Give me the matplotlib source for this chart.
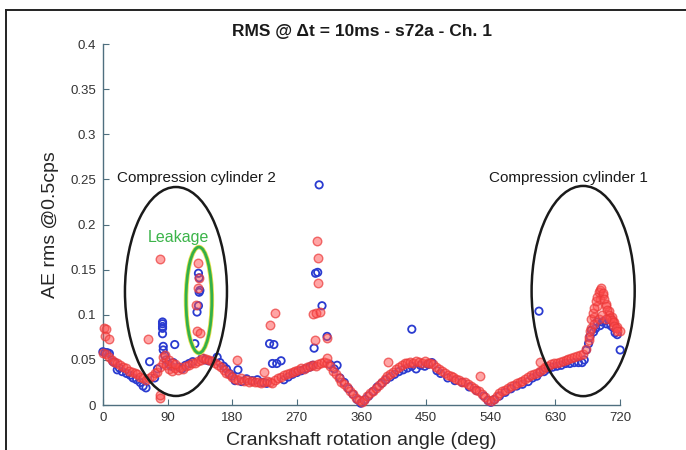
import matplotlib
matplotlib.use("Agg")
import matplotlib.pyplot as plt
from matplotlib.patches import Ellipse
from matplotlib.lines import Line2D
import numpy as np

plt.rcParams['font.family'] = ['Liberation Sans', 'DejaVu Sans']

# ---------------- data ----------------
red_main_x = list(range(0, 724, 4))
red_main_y = [
    0.058, 0.056, 0.053, 0.050, 0.048, 0.046, 0.044, 0.042, 0.041, 0.038,
    0.037, 0.035, 0.034, 0.031, 0.030, 0.028, 0.030, 0.032, 0.035, 0.037,
    0.042, 0.046, 0.044, 0.040, 0.038, 0.041, 0.039, 0.042, 0.040, 0.043,
    0.044, 0.046, 0.047, 0.049, 0.050, 0.052, 0.051, 0.050, 0.049, 0.046,
    0.044, 0.042, 0.039, 0.036, 0.034, 0.031, 0.029, 0.028, 0.030, 0.027,
    0.028, 0.026, 0.027, 0.025, 0.026, 0.024, 0.025, 0.027, 0.026, 0.024,
    0.028, 0.030, 0.031, 0.033, 0.034, 0.036, 0.037, 0.038, 0.039, 0.041,
    0.040, 0.042, 0.043, 0.044, 0.043, 0.045, 0.046, 0.048, 0.046, 0.043,
    0.038, 0.034, 0.030, 0.026, 0.023, 0.020, 0.016, 0.012, 0.008, 0.005,
    0.003, 0.006, 0.010, 0.013, 0.016, 0.019, 0.022, 0.026, 0.029, 0.032,
    0.034, 0.037, 0.040, 0.042, 0.044, 0.046, 0.047, 0.048, 0.047, 0.049,
    0.048, 0.047, 0.049, 0.047, 0.046, 0.045, 0.042, 0.040, 0.038, 0.035,
    0.033, 0.032, 0.031, 0.029, 0.028, 0.026, 0.025, 0.023, 0.021, 0.019,
    0.017, 0.015, 0.012, 0.009, 0.006, 0.004, 0.007, 0.010, 0.013, 0.015,
    0.017, 0.019, 0.021, 0.022, 0.024, 0.026, 0.027, 0.029, 0.031, 0.033,
    0.034, 0.036, 0.038, 0.040, 0.042, 0.043, 0.045, 0.046, 0.047, 0.048,
    0.049, 0.050, 0.051, 0.052, 0.053, 0.054, 0.055, 0.056, 0.062, 0.072,
    0.085, 0.098, 0.110, 0.118, 0.122, 0.112, 0.104, 0.098, 0.092, 0.086,
    0.082,
]
red_extra_x = [1, 5, 3, 8, 63, 79, 79, 80, 84, 87, 92, 96, 100,
               130, 131, 132, 133, 134, 135, 186, 224, 233, 240,
               292, 296, 298, 299, 300, 302, 295, 312, 312, 397, 525, 608,
               676, 678, 680, 682, 684, 686, 688, 690, 692, 694, 696, 698,
               700, 702, 704, 706, 708, 710, 712, 714, 716, 684, 690, 695, 700]
red_extra_y = [0.085, 0.084, 0.076, 0.073, 0.073, 0.162, 0.008, 0.011, 0.053, 0.055, 0.050, 0.047, 0.045,
               0.111, 0.082, 0.157, 0.130, 0.141, 0.080, 0.050, 0.037, 0.089, 0.102,
               0.101, 0.102, 0.182, 0.163, 0.135, 0.103, 0.072, 0.074, 0.052, 0.048, 0.032, 0.048,
               0.075, 0.082, 0.095, 0.102, 0.108, 0.115, 0.120, 0.125, 0.128, 0.130, 0.124, 0.118,
               0.110, 0.105, 0.100, 0.096, 0.094, 0.092, 0.088, 0.085, 0.082, 0.090, 0.095, 0.100, 0.095]

blue_x = [0, 3, 6, 9, 14, 17, 20, 23, 27, 33, 38, 42, 47, 52, 56, 60, 65, 72, 76,
          83, 83, 83, 83, 83, 84, 84, 86, 88, 92, 95, 98, 100,
          105, 110, 115, 120, 125, 128, 131, 133, 134, 133, 134, 135,
          138, 142, 147, 159, 163, 168, 172, 176, 180, 184, 188,
          193, 200, 208, 215, 222, 228, 232, 238, 236, 242, 248,
          252, 258, 264, 270, 276, 282, 288, 292,
          294, 296, 299, 301, 305, 312,
          316, 322, 326, 330, 336, 342, 348, 354, 359,
          365, 370, 376, 382, 388, 394, 400, 406, 412, 418, 424, 430, 436, 442, 448, 453, 458, 430,
          465, 470, 480, 490, 500, 510, 520, 530, 536, 540,
          545, 552, 560, 568, 576, 584, 592, 598, 604, 608, 607,
          614, 620, 626, 632, 638, 644, 650, 656, 662, 667, 670, 673, 676, 678, 680,
          683, 686, 688, 692, 695, 698, 701, 704, 707, 710, 713, 716, 720]
blue_y = [0.059, 0.058, 0.058, 0.057, 0.048, 0.047, 0.039, 0.041, 0.037, 0.035, 0.033, 0.030, 0.028, 0.025, 0.021, 0.019, 0.048, 0.030, 0.040,
          0.092, 0.090, 0.087, 0.085, 0.079, 0.065, 0.061, 0.055, 0.050, 0.045, 0.043, 0.047, 0.067,
          0.042, 0.040, 0.044, 0.046, 0.048, 0.068, 0.103, 0.110, 0.125, 0.146, 0.141, 0.127,
          0.052, 0.050, 0.049, 0.053, 0.047, 0.043, 0.040, 0.035, 0.032, 0.027, 0.039,
          0.026, 0.029, 0.027, 0.028, 0.025, 0.024, 0.068, 0.067, 0.046, 0.046, 0.049,
          0.028, 0.031, 0.034, 0.036, 0.038, 0.040, 0.042, 0.044,
          0.063, 0.146, 0.147, 0.244, 0.110, 0.076,
          0.045, 0.040, 0.044, 0.030, 0.025, 0.018, 0.012, 0.006, 0.002,
          0.006, 0.010, 0.015, 0.020, 0.024, 0.028, 0.031, 0.034, 0.037, 0.039, 0.041, 0.043, 0.040, 0.044, 0.043, 0.045, 0.047, 0.084,
          0.038, 0.035, 0.030, 0.027, 0.025, 0.020, 0.016, 0.010, 0.005, 0.003,
          0.006, 0.010, 0.014, 0.018, 0.021, 0.023, 0.026, 0.030, 0.032, 0.036, 0.104,
          0.037, 0.040, 0.042, 0.043, 0.044, 0.046, 0.046, 0.047, 0.047, 0.047, 0.050, 0.061, 0.068, 0.076, 0.083,
          0.081, 0.085, 0.092, 0.088, 0.092, 0.093, 0.090, 0.095, 0.088, 0.086, 0.080, 0.078, 0.061]

x_ticks = [0, 90, 180, 270, 360, 450, 540, 630, 720]
y_ticks = [0, 0.05, 0.1, 0.15, 0.2, 0.25, 0.3, 0.35, 0.4]
y_tick_labels = ['0', '0.05', '0.1', '0.15', '0.2', '0.25', '0.3', '0.35', '0.4']

# ---------------- figure ----------------
fig = plt.figure(figsize=(6.86, 4.5), dpi=100)
ax = fig.add_axes([0.150, 0.100, 0.754, 0.802])

spine_col = '#4f6f7f'

ax.scatter(blue_x, blue_y, s=28, facecolors='none', edgecolors='#2a3bd0',
           linewidths=1.3, zorder=3, clip_on=False)
red_x = red_main_x + red_extra_x
red_y = red_main_y + red_extra_y
ax.scatter(red_x, red_y, s=38, facecolors=(1.0, 0.3, 0.3, 0.5),
           edgecolors=(0.92, 0.22, 0.22, 0.7), linewidths=1.0, zorder=4, clip_on=False)

# ellipses
ax.add_patch(Ellipse((101.7, 0.1258), 142, 0.2316, fill=False, ec='#1a1a1a', lw=1.8, zorder=5, clip_on=False))
ax.add_patch(Ellipse((668.5, 0.1263), 143.5, 0.233, fill=False, ec='#1a1a1a', lw=1.8, zorder=5, clip_on=False))
ax.add_patch(Ellipse((133.7, 0.1163), 36, 0.1175, fill=False, ec='#e6e04a', lw=3.2, zorder=5, clip_on=False))
ax.add_patch(Ellipse((133.7, 0.1163), 36, 0.1175, fill=False, ec='#33b04a', lw=2.0, zorder=6, clip_on=False))

ax.text(19.5, 0.2515, 'Compression cylinder 2', fontsize=11, color='#1a1a1a', va='center', ha='left')
ax.text(537.6, 0.2515, 'Compression cylinder 1', fontsize=11, color='#1a1a1a', va='center', ha='left')
ax.text(62.7, 0.186, 'Leakage', fontsize=11.5, color='#3cb44a', va='center', ha='left')

ax.set_xlim(0, 720)
ax.set_ylim(0, 0.4)
ax.set_xticks(x_ticks)
ax.set_xticklabels([str(v) for v in x_ticks])
ax.set_yticks(y_ticks)
ax.set_yticklabels(y_tick_labels)
for s in ['top', 'right']:
    ax.spines[s].set_visible(False)
for s in ['left', 'bottom']:
    ax.spines[s].set_color(spine_col)
    ax.spines[s].set_linewidth(1.0)
ax.tick_params(direction='in', length=4, color=spine_col, labelsize=9.5,
               labelcolor='#333333', pad=5)
ax.set_title('RMS @ \u0394t = 10ms - s72a - Ch. 1', fontsize=12.5, fontweight='bold',
             color='#1a1a1a', pad=6)
ax.set_ylabel('AE rms @0.5cps', fontsize=14, color='#262626', labelpad=8)
ax.set_xlabel('Crankshaft rotation angle (deg)', fontsize=14, color='#262626', labelpad=6)

# outer frame
fig.add_artist(Line2D([6/686, 6/686], [0, 1 - 10/450], transform=fig.transFigure, color='#222222', lw=1.4))
fig.add_artist(Line2D([6/686, 1], [1 - 10/450, 1 - 10/450], transform=fig.transFigure, color='#222222', lw=1.4))

fig.savefig('out.png', dpi=100)
